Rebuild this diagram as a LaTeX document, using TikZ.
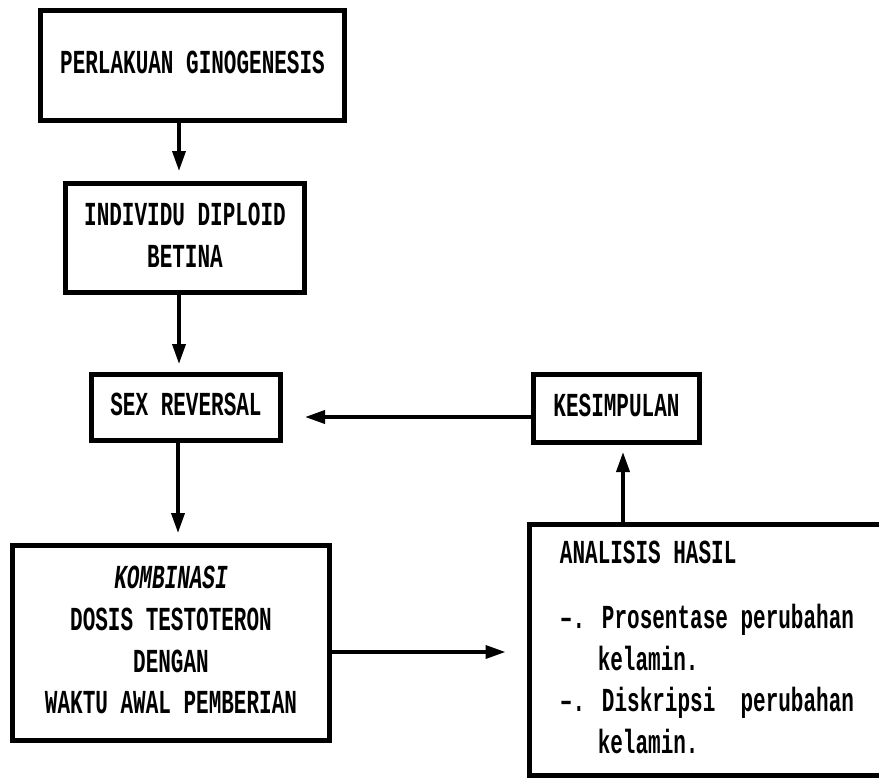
\documentclass[tikz,border=0pt]{standalone}
\usepackage{fontspec}
\usepackage{graphicx}
\usetikzlibrary{arrows.meta}
\newfontfamily\dotfont{Liberation Mono}
% teks tinggi dan sempit seperti cetakan printer
\newcommand\tallbox[2][c]{\scalebox{1}[1.6]{\begin{tabular}{@{}#1@{}}#2\end{tabular}}}

\begin{document}
\begin{tikzpicture}[x=1pt,y=-1pt,
    kotak/.style={draw, line width=5pt, inner sep=0pt,
      font=\dotfont\bfseries\fontsize{21}{26}\selectfont},
    panah/.style={line width=3.6pt, -{Triangle[length=20pt,width=13pt]}}]
  \clip (0,0) rectangle (879,782);
  % kotak-kotak
  \node[kotak, minimum width=304pt, minimum height=110pt] (gino) at (192.5,65.5) {\tallbox{PERLAKUAN GINOGENESIS}};
  \node[kotak, minimum width=239pt, minimum height=109pt] (diploid) at (185,238) {\tallbox{INDIVIDU DIPLOID\\BETINA}};
  \node[kotak, minimum width=189pt, minimum height=66pt] (sex) at (186,407.5) {\tallbox{SEX REVERSAL}};
  \node[kotak, minimum width=166pt, minimum height=68pt] (kes) at (616.5,408.5) {\tallbox{KESIMPULAN}};
  \node[kotak, minimum width=317pt, minimum height=195pt] (kombi) at (171,643) {\tallbox{\textit{KOMBINASI}\\DOSIS TESTOTERON\\DENGAN\\WAKTU AWAL PEMBERIAN}};
  \node[kotak, minimum width=356pt, minimum height=251pt] (hasil) at (707,650) {\tallbox[l]{ANALISIS HASIL\\[15pt]
      –. Prosentase perubahan\\ \phantom{–.}\ kelamin.\\
      –. Diskripsi\ \ perubahan\\ \phantom{–.}\ kelamin.}};
  % panah
  \coordinate (kol) at (179,0);
  \coordinate (kol2) at (623,0);
  \coordinate (baris) at (0,417);
  \coordinate (baris2) at (0,652);
  \draw[panah, shorten >=10pt] (gino.south -| kol) -- (diploid.north -| kol);
  \draw[panah, shorten >=8pt] (diploid.south -| kol) -- (sex.north -| kol);
  \draw[panah, shorten >=10pt] ([xshift=-1pt]sex.south -| kol) -- ([xshift=-1pt]kombi.north -| kol);
  \draw[panah, shorten >=22pt] (kes.west |- baris) -- (sex.east |- baris);
  \draw[panah, shorten >=21pt] (kombi.east |- baris2) -- (hasil.west |- baris2);
  \draw[panah, shorten >=7pt] (hasil.north -| kol2) -- (kes.south -| kol2);
\end{tikzpicture}
\end{document}
